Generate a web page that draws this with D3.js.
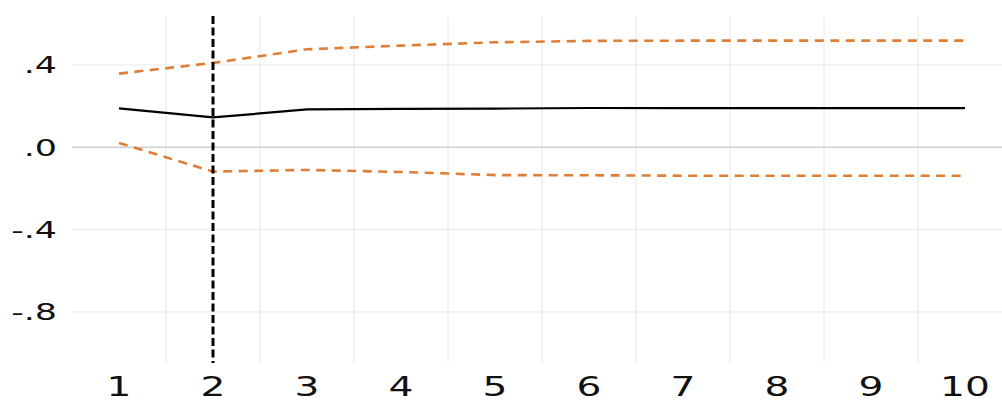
<!DOCTYPE html>
<html>
<head>
<meta charset="utf-8">
<script src="https://cdn.jsdelivr.net/npm/d3@7"></script>
<style>
  html, body { margin: 0; padding: 0; background: #fff; }
  svg { display: block; }
  text { font-family: "DejaVu Sans", Verdana, sans-serif; fill: #111; }
</style>
</head>
<body>
<svg id="chart" width="1002" height="403"></svg>
<script>
// Impulse response by horizon, with its confidence band
const horizons = [1, 2, 3, 4, 5, 6, 7, 8, 9, 10];
const irf   = [0.189, 0.145, 0.184, 0.187, 0.188, 0.191, 0.190, 0.190, 0.190, 0.190];
const upper = [0.358, 0.410, 0.476, 0.494, 0.510, 0.517, 0.518, 0.518, 0.518, 0.518];
const lower = [0.021, -0.118, -0.110, -0.120, -0.135, -0.136, -0.138, -0.138, -0.138, -0.138];
const yTicks = [0.4, 0.0, -0.4, -0.8];
const yTickLabels = [".4", ".0", "-.4", "-.8"];
const markHorizon = 2;

const svg = d3.select("#chart");
const W = 1002, H = 403;
const plot = { left: 72, right: 1012, top: 17, bottom: 363 };

const x = d3.scaleLinear().domain([0.5, 10.5]).range([plot.left, plot.right]);
const y = d3.scaleLinear().domain([-1.048, 0.633]).range([plot.bottom, plot.top]);

// grid: vertical lines between horizons
const gridX = d3.range(1.5, 10, 1);
svg.append("g").selectAll("line").data(gridX).join("line")
  .attr("x1", d => x(d)).attr("x2", d => x(d))
  .attr("y1", plot.top).attr("y2", plot.bottom)
  .attr("stroke", "#e6e6e6").attr("stroke-width", 1);

// horizontal grid
svg.append("g").selectAll("line").data(yTicks).join("line")
  .attr("x1", plot.left).attr("x2", W)
  .attr("y1", d => y(d)).attr("y2", d => y(d))
  .attr("stroke", d => d === 0 ? "#cfcfcf" : "#e8e8e8")
  .attr("stroke-width", d => d === 0 ? 1.5 : 1);

// y labels (wide glyphs)
const yl = svg.append("g").selectAll("g").data(yTicks).join("g")
  .attr("transform", d => `translate(57, ${y(d) + 8.5}) scale(1.55, 1)`);
yl.append("text")
  .attr("text-anchor", "end")
  .attr("font-size", 22.5)
  .text((d, i) => yTickLabels[i]);

// x labels
const xl = svg.append("g").selectAll("g").data(horizons).join("g")
  .attr("transform", d => `translate(${x(d)}, 396) scale(1.45, 1)`);
xl.append("text")
  .attr("text-anchor", "middle")
  .attr("font-size", 27)
  .text(d => d);

// confidence band lines
const line = vals => d3.line().x((d, i) => x(horizons[i])).y(d => y(d))(vals);
svg.append("path").attr("d", line(upper))
  .attr("fill", "none").attr("stroke", "#E07E35").attr("stroke-width", 2.6)
  .attr("stroke-dasharray", "9,6.5");
svg.append("path").attr("d", line(lower))
  .attr("fill", "none").attr("stroke", "#E07E35").attr("stroke-width", 2.6)
  .attr("stroke-dasharray", "9,6.5");

// point estimate
svg.append("path").attr("d", line(irf))
  .attr("fill", "none").attr("stroke", "#000").attr("stroke-width", 2.2);

// marker at the selected horizon
svg.append("line")
  .attr("x1", x(markHorizon)).attr("x2", x(markHorizon))
  .attr("y1", plot.top - 1).attr("y2", plot.bottom)
  .attr("stroke", "#000").attr("stroke-width", 3)
  .attr("stroke-dasharray", "8,3.5");
</script>
</body>
</html>
